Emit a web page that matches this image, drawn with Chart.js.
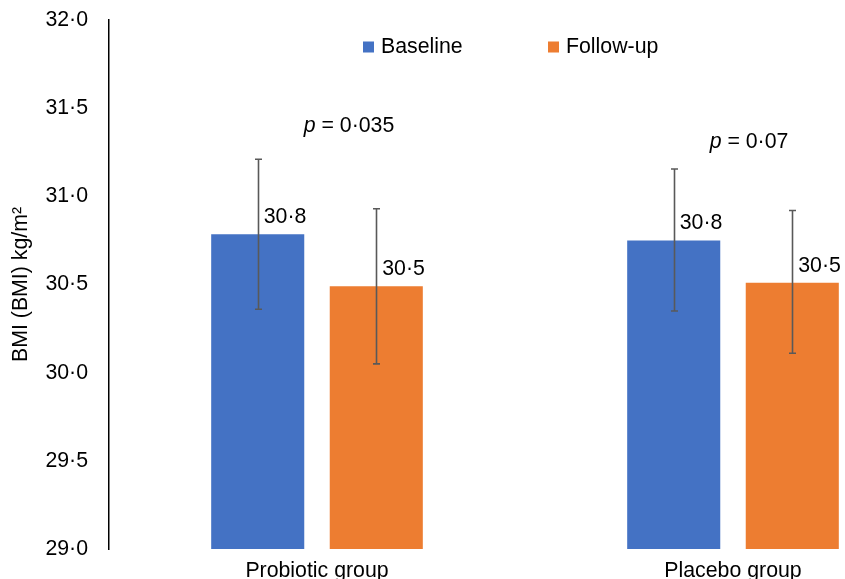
<!DOCTYPE html>
<html>
<head>
<meta charset="utf-8">
<script src="https://cdn.jsdelivr.net/npm/chart.js@4.4.1/dist/chart.umd.min.js"></script>
<style>
  html, body { margin: 0; padding: 0; background: #fff; overflow: hidden; width: 845px; height: 579px; }
  #wrap { width: 941px; height: 579px; }
</style>
</head>
<body>
<div id="wrap"><canvas id="c" width="941" height="579"></canvas></div>
<script>
// ---- data ----
const categories = ['Probiotic group', 'Placebo group'];
const seriesNames = ['Baseline', 'Follow-up'];
const baselineValues = [30.785, 30.75];
const followupValues = [30.49, 30.51];
const baselineErrLow = [30.36, 30.35];
const baselineErrHigh = [31.21, 31.155];
const followupErrLow = [30.05, 30.11];
const followupErrHigh = [30.93, 30.92];
const pValueLabels = ['0·035', '0·07'];
const pValueY = [31.40, 31.31];
const yTicks = [29.0, 29.5, 30.0, 30.5, 31.0, 31.5, 32.0];

// ---- styles ----
const FONT = 'Liberation Sans, Arial, sans-serif';
const FS = 21.3;
const BLUE = '#4472C4';
const ORANGE = '#ED7D31';
const ERR = '#595959';
const fmt = v => Number(v).toFixed(1).replace('.', '·');
const pOffsetsPx = [32, 16];

const errLow = [baselineErrLow, followupErrLow];
const errHigh = [baselineErrHigh, followupErrHigh];

const overlayPlugin = {
  id: 'overlay',
  afterDatasetsDraw(chart) {
    const ctx = chart.ctx;
    const y = chart.scales.y, x = chart.scales.x;
    ctx.save();
    // error bars
    chart.data.datasets.forEach((ds, di) => {
      const meta = chart.getDatasetMeta(di);
      meta.data.forEach((bar, i) => {
        const cx = Math.round(bar.x) + 0.5;
        const yl = y.getPixelForValue(errLow[di][i]);
        const yh = y.getPixelForValue(errHigh[di][i]);
        ctx.strokeStyle = ERR;
        ctx.lineWidth = 1.6;
        ctx.beginPath();
        ctx.moveTo(cx, yl); ctx.lineTo(cx, yh);
        ctx.moveTo(cx - 3.5, yl); ctx.lineTo(cx + 3.5, yl);
        ctx.moveTo(cx - 3.5, yh); ctx.lineTo(cx + 3.5, yh);
        ctx.stroke();
      });
    });
    // data labels
    ctx.fillStyle = '#000';
    ctx.font = FS + 'px ' + FONT;
    ctx.textAlign = 'left';
    ctx.textBaseline = 'middle';
    chart.data.datasets.forEach((ds, di) => {
      const meta = chart.getDatasetMeta(di);
      meta.data.forEach((bar, i) => {
        ctx.fillText(fmt(ds.data[i]), bar.x + 6, bar.y - 17);
      });
    });
    // p-value notes
    categories.forEach((c, i) => {
      const cx = x.getPixelForValue(i) + pOffsetsPx[i];
      const cy = y.getPixelForValue(pValueY[i]);
      const rest = ' = ' + pValueLabels[i];
      ctx.font = 'italic ' + FS + 'px ' + FONT;
      const wp = ctx.measureText('p').width;
      ctx.font = FS + 'px ' + FONT;
      const wr = ctx.measureText(rest).width;
      const left = cx - (wp + wr) / 2;
      ctx.font = 'italic ' + FS + 'px ' + FONT;
      ctx.fillText('p', left, cy);
      ctx.font = FS + 'px ' + FONT;
      ctx.fillText(rest, left + wp, cy);
    });
    // legend
    const legendX = [363, 548];
    const legendY = 47;
    chart.data.datasets.forEach((ds, di) => {
      ctx.fillStyle = ds.backgroundColor;
      ctx.fillRect(legendX[di], legendY - 5.5, 11, 11);
      ctx.fillStyle = '#000';
      ctx.font = FS + 'px ' + FONT;
      ctx.fillText(ds.label, legendX[di] + 18, legendY);
    });
    ctx.restore();
  }
};

new Chart(document.getElementById('c'), {
  type: 'bar',
  data: {
    labels: categories,
    datasets: [
      { label: seriesNames[0], data: baselineValues, backgroundColor: BLUE },
      { label: seriesNames[1], data: followupValues, backgroundColor: ORANGE }
    ]
  },
  options: {
    responsive: false,
    animation: false,
    devicePixelRatio: 1,
    layout: { padding: { top: 20, left: 0, right: 0, bottom: 0 } },
    categoryPercentage: 0.57,
    barPercentage: 0.785,
    plugins: { legend: { display: false }, tooltip: { enabled: false } },
    scales: {
      x: {
        grid: { display: false, drawTicks: false },
        border: { display: false },
        ticks: { color: '#000', font: { family: FONT, size: FS }, padding: 9, maxRotation: 0 },
        afterFit: s => { s.height = 30; s.paddingLeft = 0; s.paddingRight = 0; }
      },
      y: {
        min: 29, max: 32,
        afterBuildTicks: s => { s.ticks = yTicks.map(v => ({ value: v })); },
        grid: { display: false, drawTicks: false },
        border: { display: true, color: '#000', width: 1.5 },
        ticks: { color: '#000', font: { family: FONT, size: FS }, padding: 21, callback: v => fmt(v) },
        title: { display: true, text: 'BMI (BMI) kg/m²', color: '#000', font: { family: FONT, size: FS }, padding: { top: 8, bottom: 0 } },
        afterFit: s => { s.width = 109; s.paddingTop = 0; s.paddingBottom = 0; }
      }
    }
  },
  plugins: [overlayPlugin]
});
</script>
</body>
</html>
